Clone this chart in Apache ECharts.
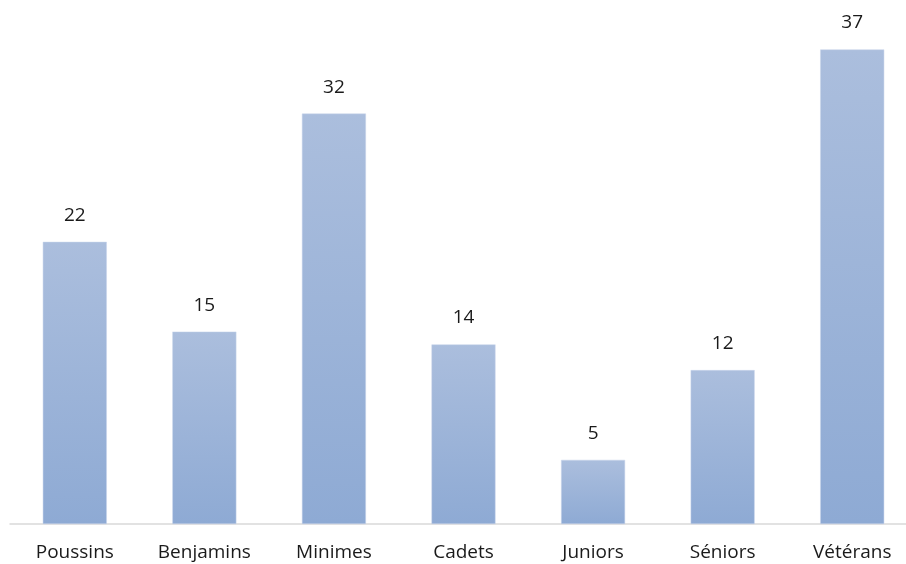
<!DOCTYPE html>
<html>
<head>
<meta charset="utf-8">
<script src="https://cdn.jsdelivr.net/npm/echarts@6/dist/echarts.min.js"></script>
<style>
  html, body { margin: 0; padding: 0; background: #fff; }
  #chart { width: 906px; height: 564px; }
</style>
</head>
<body>
<div id="chart"></div>
<script>
// catégories et effectifs
var categories = ['Poussins', 'Benjamins', 'Minimes', 'Cadets', 'Juniors', 'Séniors', 'Vétérans'];
var effectifs = [22, 15, 32, 14, 5, 12, 37];

var chart = echarts.init(document.getElementById('chart'));
var option = {
  animation: false,
  grid: { left: 10, right: -11, top: 11, bottom: 40, outerBoundsMode: 'none' },
  xAxis: {
    type: 'category',
    data: categories,
    axisLine: { lineStyle: { color: '#d9d9d9', width: 1.5 } },
    axisTick: { show: false },
    axisLabel: { color: '#1a1a1a', fontSize: 19, fontFamily: 'Open Sans', margin: 19 }
  },
  yAxis: {
    type: 'value',
    min: 0,
    max: 40,
    show: false,
    splitLine: { show: false }
  },
  series: [{
    type: 'bar',
    data: effectifs,
    barWidth: 64,
    itemStyle: {
      color: new echarts.graphic.LinearGradient(0, 0, 0, 1, [
        { offset: 0, color: '#abbedd' },
        { offset: 1, color: '#8eaad4' }
      ]),
      borderColor: '#c9d5ea',
      borderWidth: 0.5
    },
    label: {
      show: true,
      position: 'top',
      distance: 17,
      color: '#1a1a1a',
      fontSize: 19,
      fontFamily: 'Open Sans'
    }
  }]
};
chart.setOption(option);
</script>
</body>
</html>
